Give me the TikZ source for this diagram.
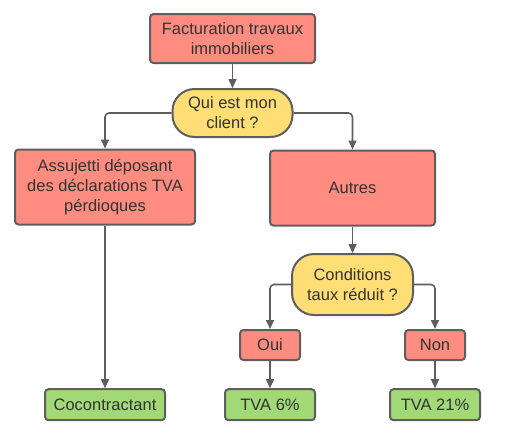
\documentclass[tikz,border=0pt]{standalone}
\usepackage{fontspec}
\setmainfont{Liberation Sans}
\usetikzlibrary{arrows.meta}
\definecolor{redf}{HTML}{FF8C80}
\definecolor{yelf}{HTML}{FFDE75}
\definecolor{grnf}{HTML}{A2D977}
\definecolor{strk}{HTML}{5E5E5E}
\definecolor{txt}{HTML}{333333}
\begin{document}
\begin{tikzpicture}[x=1pt,y=-1pt,
  base/.style={draw=strk,line width=2pt,rounded corners=3.5pt,text=txt,align=center,
    font=\fontsize{16.5}{20}\selectfont,inner sep=0pt},
  redbox/.style={base,fill=redf},
  grnbox/.style={base,fill=grnf},
  pill/.style={base,fill=yelf,rounded corners=22pt},
  conn/.style={draw=strk,line width=1.6pt,rounded corners=4pt,-{Triangle[length=9pt,width=8pt]}}]
\useasboundingbox (0,0) rectangle (506,432);
\node[redbox,minimum width=165pt,minimum height=49pt] (top) at (232.5,38.5) {Facturation travaux\\immobiliers};
\node[pill,minimum width=120pt,minimum height=48pt] (q1) at (232.5,113) {Qui est mon\\client ?};
\node[redbox,minimum width=180pt,minimum height=75pt] (ass) at (105,187) {Assujetti déposant\\des déclarations TVA\\pérdioques};
\node[redbox,minimum width=165pt,minimum height=75pt] (aut) at (352.5,188) {Autres};
\node[pill,minimum width=121pt,minimum height=61pt] (q2) at (352.5,284.5) {Conditions\\taux réduit ?};
\node[redbox,minimum width=60pt,minimum height=30pt] (oui) at (270,345) {Oui};
\node[redbox,minimum width=60pt,minimum height=30pt] (non) at (435,345) {Non};
\node[grnbox,minimum width=120pt,minimum height=31pt] (coc) at (105,404.7) {Cocontractant};
\node[grnbox,minimum width=90pt,minimum height=31pt] (t6) at (270,404.7) {TVA 6\%};
\node[grnbox,minimum width=90pt,minimum height=31pt] (t21) at (435,404.7) {TVA 21\%};
\draw[conn] (top) -- (q1);
\draw[conn] (q1.west) -| (ass.north);
\draw[conn] (q1.east) -| (aut.north);
\draw[conn] (ass) -- (coc);
\draw[conn] (aut) -- (q2);
\draw[conn] (q2.west) -| (oui.north);
\draw[conn] (q2.east) -| (non.north);
\draw[conn] (oui) -- (t6);
\draw[conn] (non) -- (t21);
\end{tikzpicture}
\end{document}
